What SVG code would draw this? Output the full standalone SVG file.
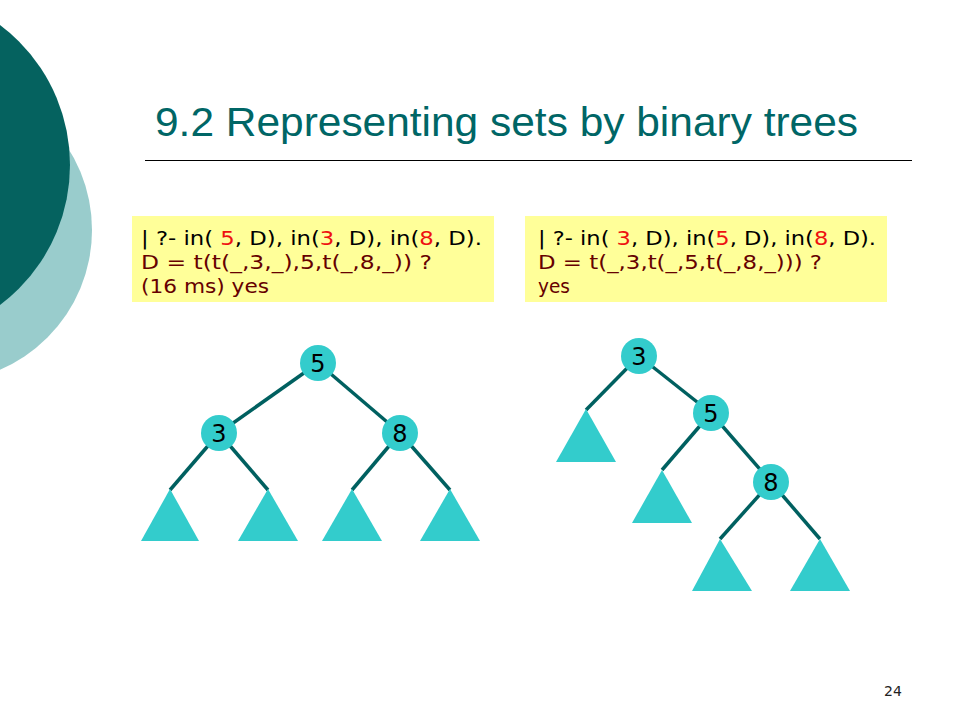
<svg xmlns="http://www.w3.org/2000/svg" width="960" height="720" viewBox="0 0 960 720">
<style>
.code{font-family:"DejaVu Sans",Verdana,sans-serif;font-size:19.5px;fill:#000}
.r{fill:#ee1111}
.dr{fill:#660000}
.node circle{fill:#33cccc}
.node text{font-family:"DejaVu Sans",Verdana,sans-serif;font-size:24px;fill:#000;text-anchor:middle}
.leaf{fill:#33cccc}
.edge{stroke:#006060;stroke-width:3.5;fill:none}
</style>
<rect width="960" height="720" fill="#fff"/>
<g id="background">
<circle cx="-60" cy="230" r="152" fill="#99cccc"/>
<circle cx="-105" cy="165" r="175" fill="#05625f"/>
</g>
<g id="title">
<text x="155" y="136" font-family="'Liberation Sans',Arial,sans-serif" font-size="41" fill="#006666" textLength="703" lengthAdjust="spacingAndGlyphs">9.2 Representing sets by binary trees</text>
<line x1="145" y1="160.5" x2="912" y2="160.5" stroke="#000" stroke-width="1"/>
</g>
<g id="query1">
<rect x="132" y="216" width="362" height="86" fill="#ffff99"/>
<text class="code" x="141" y="245" textLength="341" lengthAdjust="spacingAndGlyphs">| ?- in( <tspan class="r">5</tspan>, D), in(<tspan class="r">3</tspan>, D), in(<tspan class="r">8</tspan>, D).</text>
<text class="code dr" x="141" y="269" textLength="291" lengthAdjust="spacingAndGlyphs">D = t(t(_,3,_),5,t(_,8,_)) ?</text>
<text class="code dr" x="141" y="293" textLength="128" lengthAdjust="spacingAndGlyphs">(16 ms) yes</text>
</g>
<g id="query2">
<rect x="525" y="216" width="362" height="86" fill="#ffff99"/>
<text class="code" x="538" y="245" textLength="338" lengthAdjust="spacingAndGlyphs">| ?- in( <tspan class="r">3</tspan>, D), in(<tspan class="r">5</tspan>, D), in(<tspan class="r">8</tspan>, D).</text>
<text class="code dr" x="538" y="269" textLength="284" lengthAdjust="spacingAndGlyphs">D = t(_,3,t(_,5,t(_,8,_))) ?</text>
<text class="code dr" x="538" y="293" textLength="32" lengthAdjust="spacingAndGlyphs">yes</text>
</g>
<g id="connectors">
<line class="edge" x1="318" y1="363" x2="219" y2="433"/>
<line class="edge" x1="318" y1="363" x2="400" y2="433"/>
<line class="edge" x1="219" y1="433" x2="170" y2="490"/>
<line class="edge" x1="219" y1="433" x2="268" y2="490"/>
<line class="edge" x1="400" y1="433" x2="352" y2="490"/>
<line class="edge" x1="400" y1="433" x2="450" y2="490"/>
<line class="edge" x1="639" y1="356" x2="586" y2="410"/>
<line class="edge" x1="639" y1="356" x2="711" y2="413"/>
<line class="edge" x1="711" y1="413" x2="662" y2="470"/>
<line class="edge" x1="711" y1="413" x2="771" y2="482"/>
<line class="edge" x1="771" y1="482" x2="720" y2="539"/>
<line class="edge" x1="771" y1="482" x2="820" y2="539"/>
</g>
<g id="leaves">
<polygon class="leaf" points="170,489 141,541 199,541"/>
<polygon class="leaf" points="268,489 238,541 298,541"/>
<polygon class="leaf" points="352,489 322,541 382,541"/>
<polygon class="leaf" points="450,489 420,541 480,541"/>
<polygon class="leaf" points="586,409 556,462 616,462"/>
<polygon class="leaf" points="662,470 632,523 692,523"/>
<polygon class="leaf" points="720,539 692,591 752,591"/>
<polygon class="leaf" points="820,539 790,591 850,591"/>
</g>
<g id="node-l5" class="node"><circle cx="318" cy="363" r="18"/><text x="318" y="372">5</text></g>
<g id="node-l3" class="node"><circle cx="219" cy="433" r="18"/><text x="219" y="442">3</text></g>
<g id="node-l8" class="node"><circle cx="400" cy="433" r="18"/><text x="400" y="442">8</text></g>
<g id="node-r3" class="node"><circle cx="639" cy="356" r="18"/><text x="639" y="365">3</text></g>
<g id="node-r5" class="node"><circle cx="711" cy="413" r="18"/><text x="711" y="422">5</text></g>
<g id="node-r8" class="node"><circle cx="771" cy="482" r="18"/><text x="771" y="491">8</text></g>
<text id="page" x="893" y="696" font-family="'DejaVu Sans',Verdana,sans-serif" font-size="14" fill="#222" text-anchor="middle">24</text>
</svg>
